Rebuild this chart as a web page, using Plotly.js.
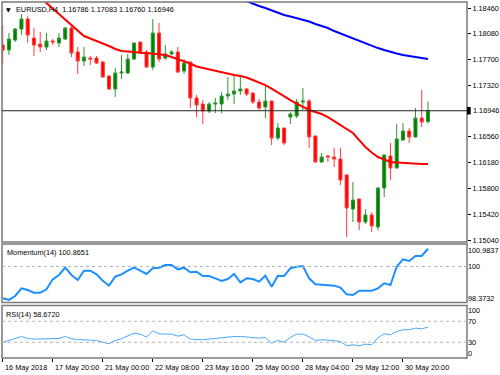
<!DOCTYPE html>
<html><head><meta charset="utf-8">
<script src="https://cdn.plot.ly/plotly-3.0.1.min.js"></script>
<style>html,body{margin:0;padding:0;background:#fff}#chart{width:500px;height:375px}</style>
</head><body><div id="chart"></div>
<script>
const symbolLabel = 'EURUSD,H4';
const openP = [1.17915,1.17841,1.17988,1.18151,1.18298,1.18018,1.17929,1.17885,1.17974,1.17944,
1.18003,1.18165,1.17812,1.17679,1.17723,1.17723,1.17664,1.17458,1.17266,1.17502,
1.17502,1.17708,1.17959,1.17812,1.17590,1.18092,1.17723,1.17782,1.17812,1.17531,
1.17664,1.17134,1.17045,1.16942,1.17045,1.17045,1.17163,1.17192,1.17237,1.17266,
1.17207,1.17075,1.17001,1.17089,1.16544,1.16691,1.16853,1.16868,1.17075,1.17089,
1.16573,1.16190,1.16279,1.16264,1.16234,1.15999,1.15497,1.15645,1.15306,1.15409,
1.15232,1.15807,1.16279,1.16102,1.16514,1.16647,1.16559,1.16839,1.16786];
const highP = [1.18210,1.18092,1.18165,1.18372,1.18342,1.18165,1.18106,1.18092,1.18003,1.18092,
1.18180,1.18224,1.17885,1.17885,1.17753,1.17753,1.17679,1.17465,1.17576,1.17767,
1.17782,1.17959,1.17965,1.17841,1.18298,1.18239,1.17915,1.17841,1.17885,1.17708,
1.17670,1.17178,1.17104,1.17075,1.17134,1.17222,1.17443,1.17458,1.17443,1.17281,
1.17212,1.17119,1.17325,1.17095,1.16765,1.16697,1.16927,1.17119,1.17281,1.17119,
1.16580,1.16323,1.16293,1.16397,1.16397,1.16005,1.15895,1.15650,1.15497,1.15453,
1.15822,1.16300,1.16470,1.16750,1.16765,1.16691,1.16986,1.17251,1.17083];
const lowP = [1.17635,1.17767,1.17959,1.18062,1.17944,1.17753,1.17812,1.17841,1.17915,1.17885,
1.17988,1.17738,1.17487,1.17605,1.17620,1.17635,1.17435,1.17255,1.17148,1.17414,
1.17487,1.17694,1.17782,1.17576,1.17546,1.17664,1.17694,1.17767,1.17502,1.17487,
1.16986,1.16853,1.16750,1.16912,1.16912,1.16912,1.17104,1.17045,1.17178,1.17163,
1.17045,1.16957,1.16839,1.16441,1.16514,1.16441,1.16750,1.16839,1.16957,1.16397,
1.16180,1.16175,1.16190,1.16116,1.15851,1.15085,1.15306,1.15188,1.15276,1.15158,
1.15188,1.15674,1.15925,1.16095,1.16508,1.16470,1.16552,1.16706,1.16760];
const closeP = [1.17841,1.18003,1.18151,1.18298,1.18062,1.17915,1.17885,1.17974,1.17959,1.18018,
1.18165,1.17797,1.17679,1.17738,1.17708,1.17649,1.17443,1.17266,1.17502,1.17517,
1.17708,1.17944,1.17797,1.17590,1.18092,1.17708,1.17782,1.17812,1.17517,1.17649,
1.17134,1.17030,1.16942,1.17045,1.17060,1.17163,1.17192,1.17237,1.17266,1.17192,
1.17075,1.16986,1.17089,1.16544,1.16691,1.16470,1.16898,1.17075,1.17089,1.16559,
1.16190,1.16264,1.16264,1.16234,1.15925,1.15512,1.15630,1.15306,1.15409,1.15247,
1.15807,1.16293,1.16102,1.16529,1.16647,1.16559,1.16839,1.16780,1.16946];

const sma20Start = 5;
const sma20 = [1.18696,1.18615,1.18534,1.18460,1.18372,1.18291,1.18217,1.18136,1.18047,1.18011,
1.17974,1.17944,1.17900,1.17856,1.17826,1.17819,1.17807,1.17801,1.17797,1.17786,
1.17778,1.17767,1.17738,1.17708,1.17679,1.17642,1.17598,1.17576,1.17554,1.17531,
1.17509,1.17487,1.17473,1.17458,1.17436,1.17399,1.17362,1.17325,1.17273,1.17214,
1.17156,1.17104,1.17052,1.17008,1.16957,1.16927,1.16898,1.16853,1.16794,1.16736,
1.16677,1.16618,1.16514,1.16411,1.16330,1.16264,1.16227,1.16190,1.16183,1.16175,
1.16175,1.16168,1.16161,1.16161];
const sma100Start = 36;
const sma100 = [1.18666,1.18630,1.18593,1.18556,1.18519,1.18490,1.18460,1.18423,1.18386,1.18357,
1.18335,1.18313,1.18291,1.18261,1.18224,1.18195,1.18165,1.18121,1.18084,1.18047,
1.18011,1.17974,1.17944,1.17900,1.17870,1.17841,1.17812,1.17789,1.17767,1.17753,
1.17738,1.17723,1.17708];

const momentum = [98.4465,98.3732,98.5604,98.9345,98.8532,98.7230,98.7230,98.8857,99.3737,99.5852,
99.9431,99.5852,99.3412,99.7967,99.7967,99.6177,99.3087,99.0646,99.5039,99.6177,
99.7967,99.9431,99.7967,99.6340,99.9105,99.9431,100.0732,100.0732,99.8617,99.9431,
99.7153,99.7479,99.5364,99.5364,99.4225,99.2924,99.3900,99.6340,99.2273,99.4225,
99.3900,99.2599,99.5527,99.0158,99.5527,99.5364,99.9105,99.9919,100.0244,99.4225,
99.1297,99.0972,99.0809,99.0646,98.9670,98.6417,98.6092,98.8206,98.8206,98.8206,
98.9345,99.1785,99.0972,99.9919,100.3497,100.2684,100.5124,100.5124,100.8651];
const rsi = [29.59,34.03,37.21,41.02,37.21,35.94,35.94,35.94,36.57,37.21,
41.02,36.57,35.30,34.67,34.03,33.40,30.22,27.05,33.40,36.57,
42.29,47.37,45.46,39.75,51.81,46.10,45.46,45.46,41.65,44.19,
35.94,34.67,34.67,35.94,37.21,39.11,40.38,41.02,41.02,39.75,
38.48,37.84,39.11,28.32,33.40,30.22,39.11,45.46,45.46,40.38,
33.40,34.67,34.03,33.40,31.49,23.24,25.14,23.24,26.41,25.14,
38.48,46.10,44.19,50.54,53.71,53.71,56.89,55.62,58.672];

const priceTicks = [1.18460,1.18080,1.17700,1.17320,1.16560,1.16180,1.15800,1.15420,1.15040];
const lastPrice = 1.16946;
const momLabelText = ['100.9837','100','98.3732'];
const rsiLabelText = ['100','70','30','0'];
const momLevels = [100];
const rsiLevels = [70,30];
const xTickIdx = [0,8,16,24,32,40,48,56,64];
const xTickText = ['16 May 2018','17 May 20:00','21 May 00:00','22 May 08:00','23 May 16:00','25 May 00:00','28 May 04:00','29 May 12:00','30 May 20:00'];

const idx = openP.map((_, i) => i);
const FONT = '"Liberation Sans", Arial, sans-serif';
const fs = 7.3;

const traces = [
  {type:'candlestick', x: idx, open: openP, high: highP, low: lowP, close: closeP,
   xaxis:'x', yaxis:'y', whiskerwidth:0, hoverinfo:'skip',
   increasing:{line:{color:'#2f962f', width:1}, fillcolor:'#008000'},
   decreasing:{line:{color:'#ff3a3a', width:1}, fillcolor:'#ff0000'}},
  {type:'scatter', mode:'lines', x: sma20.map((_, k) => k + sma20Start), y: sma20,
   xaxis:'x', yaxis:'y', line:{color:'#ff0000', width:2}, hoverinfo:'skip'},
  {type:'scatter', mode:'lines', x: sma100.map((_, k) => k + sma100Start), y: sma100,
   xaxis:'x', yaxis:'y', line:{color:'#0000ff', width:2}, hoverinfo:'skip'},
  {type:'scatter', mode:'lines', x: idx, y: momentum, xaxis:'x2', yaxis:'y2',
   line:{color:'#1e8fff', width:2}, hoverinfo:'skip'},
  {type:'scatter', mode:'lines', x: idx, y: rsi, xaxis:'x3', yaxis:'y3',
   line:{color:'#4aa8ff', width:1}, hoverinfo:'skip'}
];

const H = 356;
const mainDom = [(358-242)/H, 1];
const momDom = [(358-302.5)/H, (358-244)/H];
const rsiDom = [0, (358-305.5)/H];

const shapes = [];
[mainDom, momDom, rsiDom].forEach(d => shapes.push({type:'rect', xref:'paper', yref:'paper',
  x0:0, x1:1, y0:d[0], y1:d[1], line:{color:'#7a7a7a', width:1.5}, fillcolor:'rgba(0,0,0,0)'}));
shapes.push({type:'line', xref:'paper', yref:'y', x0:0, x1:1, y0:lastPrice, y1:lastPrice,
  line:{color:'#222', width:1}});
momLevels.forEach(v => shapes.push({type:'line', xref:'paper', yref:'y2', x0:0, x1:1, y0:v, y1:v,
  line:{color:'#b4b4b4', width:1, dash:'dot'}}));
rsiLevels.forEach(v => shapes.push({type:'line', xref:'paper', yref:'y3', x0:0, x1:1, y0:v, y1:v,
  line:{color:'#b4b4b4', width:1, dash:'dot'}}));
// price tag marker on the axis
shapes.push({type:'rect', xref:'paper', yref:'y', x0:1, x1:1.008, y0:lastPrice-0.00055, y1:lastPrice+0.00055,
  line:{width:0}, fillcolor:'#000'});

const annotations = [
  {xref:'paper', yref:'paper', x:0, y:1, xanchor:'left', yanchor:'top', xshift:2, yshift:-2,
   text:'▼', showarrow:false, font:{family:'DejaVu Sans', size:6, color:'#000'}},
  {xref:'paper', yref:'paper', x:0, y:1, xanchor:'left', yanchor:'top', xshift:12, yshift:-1,
   text: symbolLabel + '  ' + [openP[68], highP[68], lowP[68], closeP[68]].map(v => v.toFixed(5)).join(' '),
   showarrow:false, font:{family:FONT, size:fs, color:'#000'}},
  {xref:'paper', yref:'paper', x:0, y:momDom[1], xanchor:'left', yanchor:'top', xshift:3, yshift:-2,
   text:'Momentum(14) ' + momentum[momentum.length-1].toFixed(4), showarrow:false,
   font:{family:FONT, size:fs, color:'#000'}},
  {xref:'paper', yref:'paper', x:0, y:rsiDom[1], xanchor:'left', yanchor:'top', xshift:2, yshift:-2,
   text:'RSI(14) ' + rsi[rsi.length-1].toFixed(4), showarrow:false,
   font:{family:FONT, size:fs, color:'#000'}},
  {xref:'paper', yref:'y', x:1, y:lastPrice, xanchor:'left', yanchor:'middle', xshift:4,
   text: lastPrice.toFixed(5), showarrow:false, font:{family:FONT, size:fs, color:'#000'}}
];
xTickIdx.forEach((v, k) => annotations.push({xref:'x3', yref:'paper', x:v, y:0, xanchor:'left',
  yanchor:'top', xshift:0, yshift:-3, text:xTickText[k], showarrow:false,
  font:{family:FONT, size:fs, color:'#000'}}));

const xr = [-0.11, 74.24];
const axBase = {showgrid:false, zeroline:false, showline:false, fixedrange:true};
const layout = {
  width:500, height:375, margin:{l:2, r:33, t:2, b:17},
  paper_bgcolor:'#fff', plot_bgcolor:'#fff', showlegend:false,
  font:{family:FONT, size:fs, color:'#000'},
  xaxis: Object.assign({}, axBase, {domain:[0,1], range:xr, anchor:'y', showticklabels:false, rangeslider:{visible:false}}),
  xaxis2: Object.assign({}, axBase, {domain:[0,1], range:xr, anchor:'y2', matches:'x', showticklabels:false}),
  xaxis3: Object.assign({}, axBase, {domain:[0,1], range:xr, anchor:'y3', matches:'x', tickmode:'array',
    tickvals:xTickIdx, ticks:'outside', ticklen:3, tickcolor:'#000', showticklabels:false}),
  yaxis: Object.assign({}, axBase, {domain:mainDom, range:[1.15011, 1.18549], side:'right', anchor:'x',
    tickmode:'array', tickvals:priceTicks, ticktext:priceTicks.map(v => v.toFixed(5)),
    ticks:'outside', ticklen:3, tickcolor:'#000', tickfont:{family:FONT, size:fs, color:'#000'}}),
  yaxis2: Object.assign({}, axBase, {domain:momDom, range:[98.243, 101.098], side:'right', anchor:'x2',
    tickmode:'array', tickvals:[100.805, 100, 98.448], ticktext:momLabelText, ticks:'',
    tickfont:{family:FONT, size:fs, color:'#000'}}),
  yaxis3: Object.assign({}, axBase, {domain:rsiDom, range:[0, 100], side:'right', anchor:'x3',
    tickmode:'array', tickvals:[90, 70, 30, 9], ticktext:rsiLabelText, ticks:'',
    tickfont:{family:FONT, size:fs, color:'#000'}}),
  shapes: shapes, annotations: annotations
};
Plotly.newPlot('chart', traces, layout, {staticPlot:true, displayModeBar:false});
</script></body></html>
